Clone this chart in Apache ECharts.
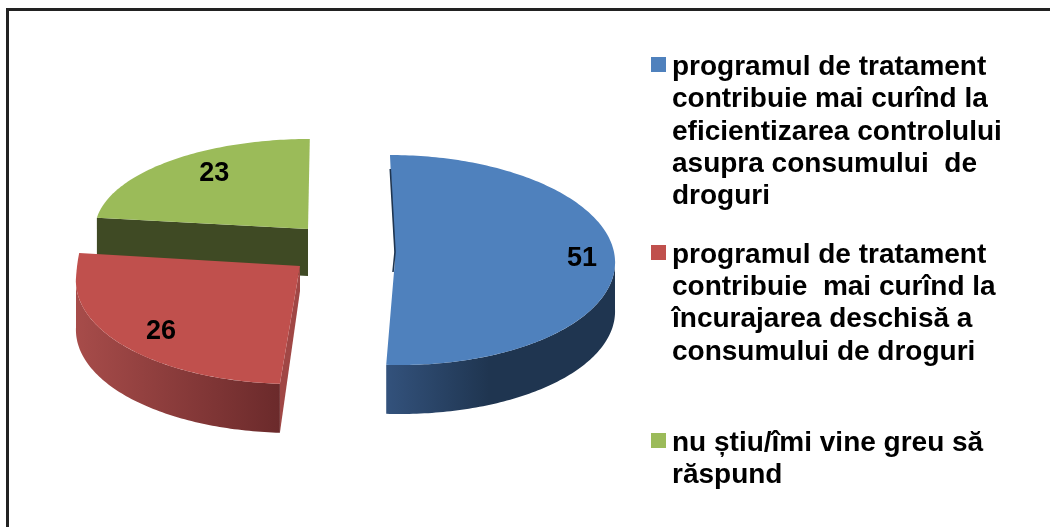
<!DOCTYPE html>
<html><head><meta charset="utf-8">
<style>html,body{margin:0;padding:0;background:#fff}#c{width:1050px;height:527px}</style>
<script src="https://cdn.jsdelivr.net/npm/echarts@6/dist/echarts.min.js"></script>
</head><body><div id="c"></div>
<script>
const categories = [
  "programul de tratament\ncontribuie mai curînd la\neficientizarea controlului\nasupra consumului  de\ndroguri",
  "programul de tratament\ncontribuie  mai curînd la\nîncurajarea deschisă a\nconsumului de droguri",
  "nu știu/îmi vine greu să\nrăspund"
];
const values = [51, 26, 23];
const colors = ["#4f81bd", "#c0504d", "#9bbb59"];

// Exploded, tilted projection of each slice (layout only)
const layout = [
  {cx:395, cy:260, ey:260, rx:220, ry:105, ryTop:105, shear:0.048,  depth:49, apexDepth:0,
   wallFrom:90, wall:["#33527c","#1f3550",0.45], edge:null, label:[0.85,0,-4]},
  {cx:300, cy:266, ey:278, rx:224, ry:106, ryTop:200, shear:-0.057, depth:49, apexDepth:25,
   wallTo:270, wall:["#a74c4a","#6b2a2b",1], edge:"#a04745", label:[0.81,4,-1]},
  {cx:308, cy:229, ey:229, rx:213, ry:90,  ryTop:90,  shear:-0.02,  depth:47, apexDepth:47,
   edge:"#3f4a24", label:[0.75,11,-5]}
];
const total = values.reduce((a,b)=>a+b,0);
const startAngles = values.map((_,i)=>values.slice(0,i).reduce((a,b)=>a+b,0)/total*360);

function pt(l,deg){
  const r=deg*Math.PI/180, c=-Math.cos(r), y=c*(c<0?l.ryTop:l.ry);
  return [l.cx+Math.sin(r)*l.rx+l.shear*y, l.ey+y];
}
function arc(l,a,b){
  const n=Math.max(2,Math.ceil(Math.abs(b-a))), out=[];
  for(let k=0;k<=n;k++) out.push(pt(l,a+(b-a)*k/n));
  return out;
}
function sliceItem(i){
  return function(params,api){
    const l=layout[i], v=api.value(0), a=startAngles[i], b=a+v/total*360;
    const kids=[];
    const apex=[l.cx,l.cy];
    if(l.edge){
      const s=pt(l,a);
      kids.push({type:'polygon',shape:{points:[apex,[apex[0],apex[1]+l.apexDepth],[s[0],s[1]+l.depth],s]},style:{fill:l.edge}});
    }
    if(l.wall){
      const from=l.wallFrom!==undefined?l.wallFrom:a, to=l.wallTo!==undefined?l.wallTo:b;
      const top=arc(l,from,to), bottom=top.map(p=>[p[0],p[1]+l.depth]).reverse();
      const w=l.wall;
      // the gradient runs towards the slice's right side
      kids.push({type:'polygon',shape:{points:top.concat(bottom)},style:{
        fill:new echarts.graphic.LinearGradient(0,0,1,0,[{offset:0,color:w[0]},{offset:w[2],color:w[1]},{offset:1,color:w[1]}])}});
    }
    kids.push({type:'polygon',shape:{points:[apex].concat(arc(l,a,b))},style:{fill:colors[i]}});
    if(i===0){
      const s=pt(l,a);
      kids.push({type:'polyline',shape:{points:[[s[0]+0.3,s[1]+14],[apex[0],apex[1]-8],[apex[0]-2,apex[1]+12]]},style:{stroke:"#1f3550",lineWidth:1.6,fill:null}});
    }
    const m=pt({...l,rx:l.rx*l.label[0],ry:l.ry*l.label[0],ryTop:l.ryTop*l.label[0]},(a+b)/2);
    kids.push({type:'text',x:m[0]+l.label[1],y:m[1]+l.label[2],style:{text:String(v),font:'bold 27px "Liberation Sans"',fill:"#000",align:'center',verticalAlign:'middle'}});
    return {type:'group',children:kids};
  };
}
// draw back to front
const order=[2,1,0];
const series=order.map(i=>({type:'custom',name:categories[i],coordinateSystem:'none',renderItem:sliceItem(i),
  data:[[values[i]]],itemStyle:{color:colors[i]},silent:true,animation:false,clip:false}));

const legendTops=[51,239,427], lineH=32.3;
function icon(h){return 'path://M0,0L0.01,0L0,0Z M0,6H15V21H0Z M0,'+h+'L0.01,'+h+'L0,'+h+'Z';}
const legends=categories.map((c,i)=>{
  const h=Math.round(c.split("\n").length*lineH);
  return {show:true,left:651,top:legendTops[i],padding:0,orient:'vertical',itemWidth:15,itemHeight:h,itemGap:0,
    selectedMode:false,data:[{name:c,icon:icon(h),itemStyle:{color:colors[i]}}],
    textStyle:{fontFamily:'"Liberation Sans"',fontWeight:'bold',fontSize:28,lineHeight:lineH,color:'#000',padding:[0,0,0,1]}};
});

const chart=echarts.init(document.getElementById('c'),null,{renderer:'canvas'});
chart.setOption({
  animation:false,backgroundColor:'#fff',
  legend:legends,
  series:series,
  graphic:[
    {type:'rect',shape:{x:6,y:8,width:3,height:519},style:{fill:'#222'},silent:true},
    {type:'rect',shape:{x:6,y:8,width:1044,height:3},style:{fill:'#222'},silent:true}
  ]
});
</script></body></html>
